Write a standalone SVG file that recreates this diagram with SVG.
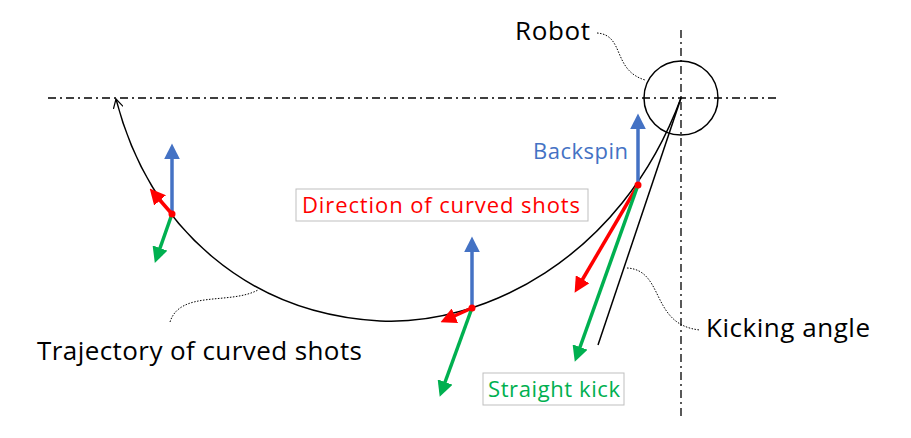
<svg xmlns="http://www.w3.org/2000/svg" width="911" height="438" viewBox="0 0 911 438">
<style>
text{font-family:"Open Sans","Noto Sans",sans-serif}
.ax{stroke:#000;stroke-width:1.3;stroke-dasharray:8 4 2 4;fill:none}
.lead{stroke:#000;stroke-width:1;stroke-dasharray:1.5 1.5;fill:none}
.b{stroke:#4472C4;stroke-width:3.5;fill:none}
.r{stroke:#FF0000;stroke-width:3.5;fill:none}
.g{stroke:#00B050;stroke-width:3.5;fill:none}
.box{fill:#fff;stroke:#BFBFBF;stroke-width:1}
</style>
<defs>
<marker id="hb" viewBox="0 0 10 10" refX="2" refY="5" markerWidth="4.5" markerHeight="4.5" orient="auto" markerUnits="strokeWidth"><path d="M0,0L10,5L0,10z" fill="#4472C4"/></marker>
<marker id="hr" viewBox="0 0 10 10" refX="2" refY="5" markerWidth="4.5" markerHeight="4.5" orient="auto" markerUnits="strokeWidth"><path d="M0,0L10,5L0,10z" fill="#FF0000"/></marker>
<marker id="hg" viewBox="0 0 10 10" refX="2" refY="5" markerWidth="4.5" markerHeight="4.5" orient="auto" markerUnits="strokeWidth"><path d="M0,0L10,5L0,10z" fill="#00B050"/></marker>
<marker id="ho" viewBox="0 0 10 10" refX="9" refY="5" markerWidth="10" markerHeight="10" orient="auto" markerUnits="userSpaceOnUse"><path d="M0,0L9,5L0,10" fill="none" stroke="#000" stroke-width="1.2"/></marker>
</defs>
<g id="axes">
<line class="ax" x1="48" y1="98" x2="780" y2="98"/>
<line class="ax" x1="681" y1="30" x2="681" y2="418"/>
</g>
<g id="robot"><circle cx="681" cy="98" r="37" fill="none" stroke="#000" stroke-width="1.5"/></g>
<g id="connectors">
<path d="M681,98 C620,262 480,326 380,321 C250,314 150,230 116,99" fill="none" stroke="#000" stroke-width="1.5" marker-end="url(#ho)"/>
<line x1="681" y1="98" x2="598" y2="345" stroke="#000" stroke-width="1.5"/>
<path class="lead" d="M597,33 C625,35 612,70 645,80"/>
<path class="lead" d="M627,268 C665,270 650,325 700,330"/>
<path class="lead" d="M170,322 C180,290 230,305 258,290"/>
<line class="b" x1="638" y1="185" x2="638" y2="126" marker-end="url(#hb)"/>
<line class="r" x1="638" y1="185" x2="581" y2="282" marker-end="url(#hr)"/>
<line class="g" x1="638" y1="185" x2="579" y2="350" marker-end="url(#hg)"/>
<line class="b" x1="172" y1="214" x2="172" y2="156" marker-end="url(#hb)"/>
<line class="r" x1="172" y1="214" x2="158" y2="198" marker-end="url(#hr)"/>
<line class="g" x1="172" y1="214" x2="159" y2="251" marker-end="url(#hg)"/>
<line class="b" x1="472" y1="308" x2="472" y2="249" marker-end="url(#hb)"/>
<line class="r" x1="472" y1="308" x2="452" y2="317" marker-end="url(#hr)"/>
<line class="g" x1="472" y1="308" x2="444" y2="385" marker-end="url(#hg)"/>
<g fill="#FF0000"><circle cx="638" cy="185" r="3.5"/><circle cx="172" cy="214" r="3.5"/><circle cx="472" cy="308" r="3.5"/></g>
</g>
<g id="label-robot"><text x="515" y="40" font-size="26" textLength="75">Robot</text></g>
<g id="label-backspin"><text x="533" y="159" font-size="22" fill="#4472C4" textLength="95">Backspin</text></g>
<g id="label-direction"><rect class="box" x="296" y="189" width="292" height="32"/><text x="302" y="213" font-size="22" fill="#FF0000" textLength="278">Direction of curved shots</text></g>
<g id="label-straight"><rect class="box" x="483" y="373" width="141" height="32"/><text x="488" y="397" font-size="22" fill="#00B050" textLength="132">Straight kick</text></g>
<g id="label-kicking"><text x="706" y="337" font-size="26" textLength="164">Kicking angle</text></g>
<g id="label-trajectory"><text x="37" y="360" font-size="26" textLength="325">Trajectory of curved shots</text></g>
</svg>
